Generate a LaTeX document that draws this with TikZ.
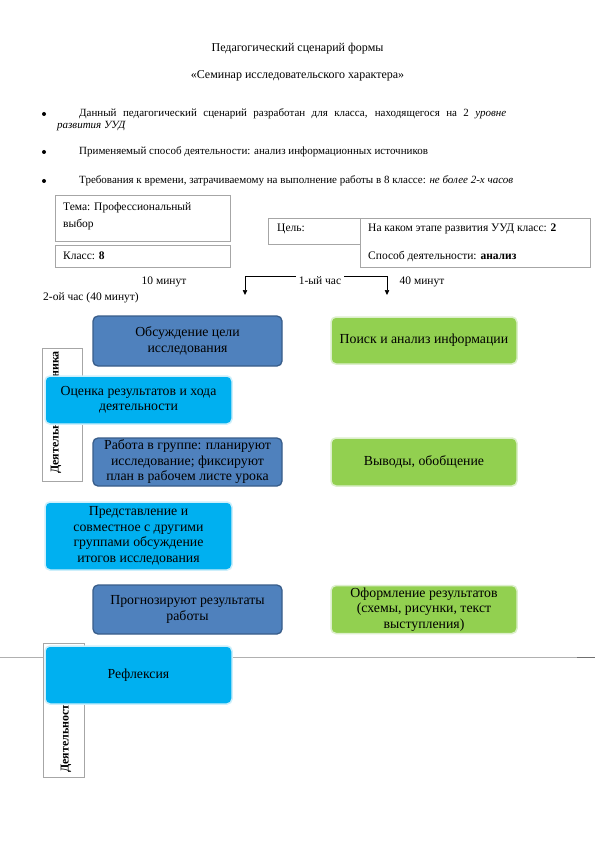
\documentclass[tikz,border=0pt]{standalone}
\usepackage{fontspec}
\setmainfont{Liberation Serif}
\usetikzlibrary{arrows.meta}
\definecolor{blueF}{HTML}{4F81BD}
\definecolor{blueD}{HTML}{385D8A}
\definecolor{cyanF}{HTML}{00B0F0}
\definecolor{cyanB}{HTML}{CDEFFB}
\definecolor{greenF}{HTML}{92D050}
\definecolor{greenB}{HTML}{DCEFCB}
\definecolor{frameG}{HTML}{A6A6A6}
\definecolor{ruleG}{HTML}{B0B0B0}
\definecolor{ruleD}{HTML}{707070}
\tikzset{
  txt/.style={inner sep=0pt, font=\fontsize{11.5}{13}\selectfont, text height=8pt, text depth=2pt},
  txtl/.style={txt, anchor=west},
  bul/.style={txtl, font=\fontsize{11}{13}\selectfont},
  ttl/.style={txt, font=\fontsize{12}{14}\selectfont},
  cbox/.style={rounded corners=5pt, minimum height=#1, align=center, inner sep=2pt,
     font=\fontsize{13.8}{15.5}\selectfont, text=black},
  bluebox/.style={cbox=#1, fill=blueF, draw=blueD, line width=1.3pt, minimum width=189pt},
  cyanbox/.style={cbox=#1, fill=cyanF, draw=cyanB, line width=1.5pt, minimum width=187pt},
  greenbox/.style={cbox=#1, fill=greenF, draw=greenB, line width=1.5pt, minimum width=186pt},
  frame/.style={draw=frameG, line width=0.6pt},
  vframe/.style={draw=frameG, fill=white, line width=0.6pt, inner sep=0pt},
  vtxt/.style={rotate=90, anchor=west, inner sep=0pt, font=\fontsize{12}{14}\selectfont\bfseries},
  arr/.style={line width=0.5pt, -{Triangle[length=5pt,width=4.5pt]}},
}
\begin{document}
\begin{tikzpicture}[x=1pt,y=-1pt]
\useasboundingbox (0,0) rectangle (595,842);
\fill[white] (0,0) rectangle (595,842);

% header texts
\node[ttl] (t1) at (297.5,49) {Педагогический сценарий формы};
\node[ttl] (t2) at (297.5,76) {«Семинар исследовательского характера»};

\fill (44,114) circle (2pt);
\fill (44,152) circle (2pt);
\fill (44,181) circle (2pt);
\node[bul] (b1) at (79,114) {\makebox[427pt][s]{Данный педагогический сценарий разработан для класса, находящегося на 2 \textit{уровне}}};
\node[bul] (b1b) at (57,126) {\textit{развития УУД}};
\node[bul] (b2) at (79,152) {Применяемый способ деятельности: анализ информационных источников};
\node[bul] (b3) at (79,181) {Требования к времени, затрачиваемому на выполнение работы в 8 классе: \textit{не более 2-х часов}};

% info tables
\draw[frame] (55,195) rectangle (230,241);
\draw[frame] (55,245) rectangle (230,267);
\node[txtl] (tema1) at (63,208) {Тема: Профессиональный};
\node[txtl] (tema2) at (63,225) {выбор};
\node[txtl] (klass) at (63,256) {Класс: \textbf{8}};
\draw[frame] (268,218) rectangle (360,244);
\draw[frame] (360,218) rectangle (590,267);
\node[txtl] (cel) at (277,229) {Цель:};
\node[txtl] (etap) at (368,229) {На каком этапе развития УУД класс: \textbf{2}};
\node[txtl] (sposob) at (368,256) {Способ деятельности: \textbf{анализ}};

% time labels
\node[txt] (m10) at (164,281) {10 минут};
\node[txt, inner xsep=3pt] (h1) at (320,281) {1-ый час};
\node[txt] (m40) at (422,281) {40 минут};
\node[txtl] (h2) at (43,297) {2-ой час (40 минут)};
\coordinate (bl) at (245,276);
\coordinate (br) at (387,276);
\coordinate (al) at (245,295);
\coordinate (ar) at (387,295);
\draw[arr] (h1.west |- bl) -- (bl) -- (al);
\draw[arr] (h1.east |- br) -- (br) -- (ar);

% page rule
\draw[ruleG, line width=0.8pt] (0,657) -- (577,657);
\draw[ruleD, line width=1pt] (577,657) -- (595,657);

% vertical labels
\node[vframe, minimum width=40pt, minimum height=133pt] (v1) at (62,414.5) {};
\node[vtxt] (v1t) at (56,474) {Деятельность ученика};
\node[vframe, minimum width=41pt, minimum height=134pt] (v2) at (63.5,710) {};
\node[vtxt] (v2t) at (66,773) {Деятельность учителя};

% coloured boxes
\node[bluebox=50pt] (obs) at (187.5,341) {Обсуждение цели\\исследования};
\node[greenbox=47pt] (poisk) at (424,340.5) {Поиск и анализ информации};
\node[cyanbox=48pt] (ocen) at (138.5,400) {Оценка результатов и хода\\деятельности};
\node[bluebox=48pt] (rab) at (187.5,462) {Работа в группе: планируют\\исследование; фиксируют\\план в рабочем листе урока};
\node[greenbox=48pt] (vyv) at (424,462) {Выводы, обобщение};
\node[cyanbox=68pt] (pred) at (138.5,536) {Представление и\\совместное с другими\\группами обсуждение\\итогов исследования};
\node[bluebox=49pt] (prog) at (187.5,609.5) {Прогнозируют результаты\\работы};
\node[greenbox=48pt] (ofor) at (424,609.5) {Оформление результатов\\(схемы, рисунки, текст\\выступления)};
\node[cyanbox=58pt] (refl) at (138.5,675) {Рефлексия};
\end{tikzpicture}
\end{document}
